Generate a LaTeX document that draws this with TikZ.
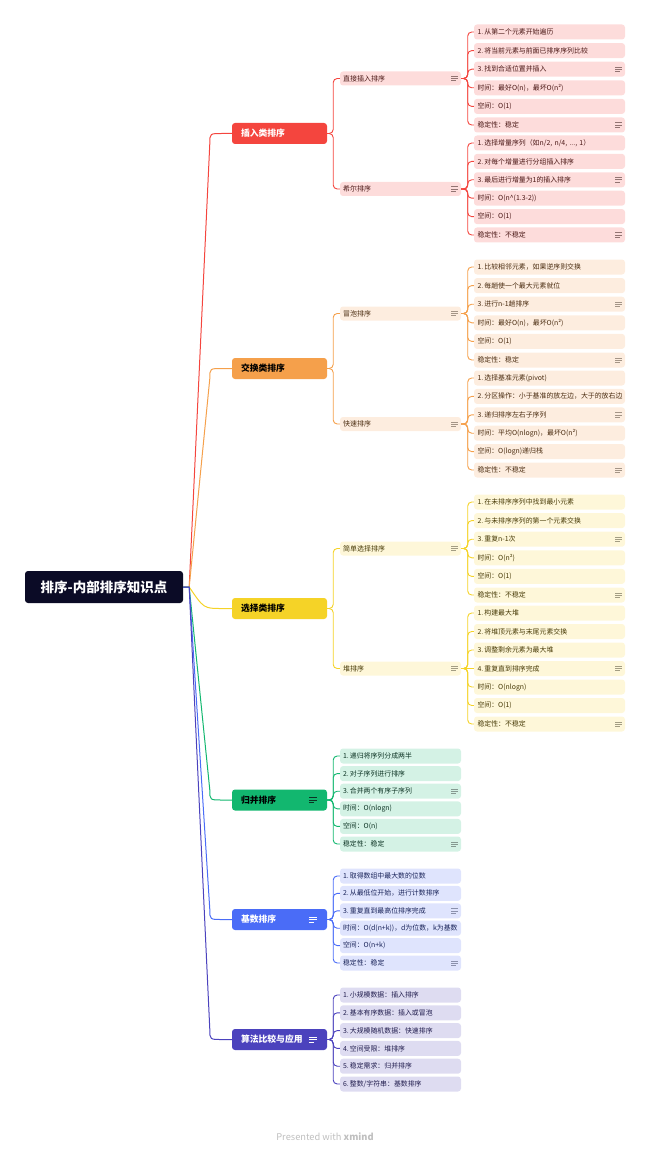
\documentclass[tikz,border=0pt]{standalone}
\usepackage{fontspec}
\setmainfont{Noto Sans CJK SC}
\definecolor{rootc}{HTML}{0B0B26}
\definecolor{red}{HTML}{F4453E}
\definecolor{redl}{HTML}{FDDCDB}
\definecolor{redt}{HTML}{4A1715}
\definecolor{orange}{HTML}{F5A04B}
\definecolor{orangel}{HTML}{FDEDDF}
\definecolor{oranget}{HTML}{4A2C10}
\definecolor{yellow}{HTML}{F5D327}
\definecolor{yellowl}{HTML}{FEF7D9}
\definecolor{yellowt}{HTML}{473A06}
\definecolor{green}{HTML}{12B76F}
\definecolor{greenl}{HTML}{D4F2E5}
\definecolor{greent}{HTML}{0C3323}
\definecolor{blue}{HTML}{4A6CF7}
\definecolor{bluel}{HTML}{DFE4FD}
\definecolor{bluet}{HTML}{182258}
\definecolor{purple}{HTML}{4B42BD}
\definecolor{purplel}{HTML}{DEDCF1}
\definecolor{purplet}{HTML}{211D4E}
\tikzset{
  box/.style={rounded corners=3pt, inner ysep=0pt, align=left},
  rootbox/.style={box, fill=rootc, text=white, inner xsep=0pt, align=center,
    font=\fontsize{13.5}{14}\selectfont\bfseries, minimum width=158pt, minimum height=32pt},
  topic/.style={box, fill=#1, inner xsep=9pt, text width=77pt, minimum height=21pt,
    font=\fontsize{8.8}{9}\selectfont\bfseries},
  sub/.style={box, fill=#1l, text=#1t, inner xsep=3pt, text width=115pt, minimum height=14pt,
    font=\fontsize{7}{7}\selectfont},
  leaf/.style={box, fill=#1l, text=#1t, inner xsep=3.5pt, text width=144pt, minimum height=15pt,
    font=\fontsize{6.9}{7}\selectfont},
  leafs/.style={box, fill=#1l, text=#1t, inner xsep=3pt, text width=115pt, minimum height=15pt,
    font=\fontsize{6.9}{7}\selectfont},
  note/.style={path picture={
    \draw[#1, line width=0.6pt]
      ([xshift=-10pt,yshift=2.2pt]path picture bounding box.east) -- ++(7,0)
      ([xshift=-10pt]path picture bounding box.east) -- ++(7,0)
      ([xshift=-10pt,yshift=-2.2pt]path picture bounding box.east) -- ++(4.5,0);}},
  bignote/.style={path picture={
    \draw[#1, line width=0.8pt]
      ([xshift=-18pt,yshift=2.6pt]path picture bounding box.east) -- ++(8,0)
      ([xshift=-18pt]path picture bounding box.east) -- ++(8,0)
      ([xshift=-18pt,yshift=-2.6pt]path picture bounding box.east) -- ++(5,0);}},
  rootlink/.style={draw=#1, line width=1pt},
  sublink/.style={draw=#1, line width=0.9pt, rounded corners=4pt}
}
\begin{document}
\begin{tikzpicture}[x=1pt,y=-1pt]
\useasboundingbox (0,0) rectangle (650,1150);

% root and main topics
\node[rootbox] (root) at (104,587) {排序-内部排序知识点};
\node[topic=red, text=white] (ins) at (279.5,133.5) {插入类排序};
\node[topic=orange, text=black] (exc) at (279.5,368.5) {交换类排序};
\node[topic=yellow, text=black] (sel) at (279.5,608.5) {选择类排序};
\node[topic=green, text=black, bignote=greent] (mrg) at (279.5,800) {归并排序};
\node[topic=blue, text=white, bignote=white] (rad) at (279.5,919.5) {基数排序};
\node[topic=purple, text=white, bignote=white] (app) at (279.5,1039.5) {算法比较与应用};

% sub topics
\node[sub=red, note=redt!60] (dir) at (400.5,78.5) {直接插入排序};
\node[sub=red, note=redt!60] (shell) at (400.5,189) {希尔排序};
\node[sub=orange, note=oranget!50] (bub) at (400.5,313.5) {冒泡排序};
\node[sub=orange, note=oranget!50] (quick) at (400.5,424) {快速排序};
\node[sub=yellow, note=yellowt!50] (simp) at (400.5,548.5) {简单选择排序};
\node[sub=yellow, note=yellowt!50] (heap) at (400.5,668.5) {堆排序};

% insertion leaves
\node[leaf=red] (dir1) at (549.5,32) {1.\,从第二个元素开始遍历};
\node[leaf=red] (dir2) at (549.5,50.6) {2.\,将当前元素与前面已排序序列比较};
\node[leaf=red, note=redt!60] (dir3) at (549.5,69.2) {3.\,找到合适位置并插入};
\node[leaf=red] (dir4) at (549.5,87.8) {时间：最好O(n)，最坏O(n²)};
\node[leaf=red] (dir5) at (549.5,106.4) {空间：O(1)};
\node[leaf=red, note=redt!60] (dir6) at (549.5,125) {稳定性：稳定};
\node[leaf=red] (shell1) at (549.5,143) {1.\,选择增量序列（如n/2, n/4, ..., 1）};
\node[leaf=red] (shell2) at (549.5,161.4) {2.\,对每个增量进行分组插入排序};
\node[leaf=red, note=redt!60] (shell3) at (549.5,179.8) {3.\,最后进行增量为1的插入排序};
\node[leaf=red] (shell4) at (549.5,198.2) {时间：O(n\^{}(1.3-2))};
\node[leaf=red] (shell5) at (549.5,216.6) {空间：O(1)};
\node[leaf=red, note=redt!60] (shell6) at (549.5,235) {稳定性：不稳定};

% exchange leaves
\node[leaf=orange] (bub1) at (549.5,267) {1.\,比较相邻元素，如果逆序则交换};
\node[leaf=orange] (bub2) at (549.5,285.6) {2.\,每趟使一个最大元素就位};
\node[leaf=orange, note=oranget!50] (bub3) at (549.5,304.2) {3.\,进行n-1趟排序};
\node[leaf=orange] (bub4) at (549.5,322.8) {时间：最好O(n)，最坏O(n²)};
\node[leaf=orange] (bub5) at (549.5,341.4) {空间：O(1)};
\node[leaf=orange, note=oranget!50] (bub6) at (549.5,360) {稳定性：稳定};
\node[leaf=orange] (quick1) at (549.5,378) {1.\,选择基准元素(pivot)};
\node[leaf=orange] (quick2) at (549.5,396.4) {2.\,分区操作：小于基准的放左边，大于的放右边};
\node[leaf=orange, note=oranget!50] (quick3) at (549.5,414.8) {3.\,递归排序左右子序列};
\node[leaf=orange] (quick4) at (549.5,433.2) {时间：平均O(nlogn)，最坏O(n²)};
\node[leaf=orange] (quick5) at (549.5,451.6) {空间：O(logn)递归栈};
\node[leaf=orange, note=oranget!50] (quick6) at (549.5,470) {稳定性：不稳定};

% selection leaves
\node[leaf=yellow] (simp1) at (549.5,502) {1.\,在未排序序列中找到最小元素};
\node[leaf=yellow] (simp2) at (549.5,520.6) {2.\,与未排序序列的第一个元素交换};
\node[leaf=yellow, note=yellowt!50] (simp3) at (549.5,539.2) {3.\,重复n-1次};
\node[leaf=yellow] (simp4) at (549.5,557.8) {时间：O(n²)};
\node[leaf=yellow] (simp5) at (549.5,576.4) {空间：O(1)};
\node[leaf=yellow, note=yellowt!50] (simp6) at (549.5,595) {稳定性：不稳定};
\node[leaf=yellow] (heap1) at (549.5,613) {1.\,构建最大堆};
\node[leaf=yellow] (heap2) at (549.5,631.5) {2.\,将堆顶元素与末尾元素交换};
\node[leaf=yellow] (heap3) at (549.5,650) {3.\,调整剩余元素为最大堆};
\node[leaf=yellow, note=yellowt!50] (heap4) at (549.5,668.5) {4.\,重复直到排序完成};
\node[leaf=yellow] (heap5) at (549.5,687) {时间：O(nlogn)};
\node[leaf=yellow] (heap6) at (549.5,705.5) {空间：O(1)};
\node[leaf=yellow, note=yellowt!50] (heap7) at (549.5,724) {稳定性：不稳定};

% merge, radix, comparison leaves
\node[leafs=green] (mrg1) at (400.5,756) {1.\,递归将序列分成两半};
\node[leafs=green] (mrg2) at (400.5,773.6) {2.\,对子序列进行排序};
\node[leafs=green, note=greent!50] (mrg3) at (400.5,791.2) {3.\,合并两个有序子序列};
\node[leafs=green] (mrg4) at (400.5,808.8) {时间：O(nlogn)};
\node[leafs=green] (mrg5) at (400.5,826.4) {空间：O(n)};
\node[leafs=green, note=greent!50] (mrg6) at (400.5,844) {稳定性：稳定};
\node[leafs=blue] (rad1) at (400.5,876) {1.\,取得数组中最大数的位数};
\node[leafs=blue] (rad2) at (400.5,893.4) {2.\,从最低位开始，进行计数排序};
\node[leafs=blue, note=bluet!50] (rad3) at (400.5,910.8) {3.\,重复直到最高位排序完成};
\node[leafs=blue] (rad4) at (400.5,928.2) {时间：O(d(n+k))，d为位数，k为基数};
\node[leafs=blue] (rad5) at (400.5,945.6) {空间：O(n+k)};
\node[leafs=blue, note=bluet!50] (rad6) at (400.5,963) {稳定性：稳定};
\node[leafs=purple] (app1) at (400.5,995) {1.\,小规模数据：插入排序};
\node[leafs=purple] (app2) at (400.5,1012.8) {2.\,基本有序数据：插入或冒泡};
\node[leafs=purple] (app3) at (400.5,1030.6) {3.\,大规模随机数据：快速排序};
\node[leafs=purple] (app4) at (400.5,1048.4) {4.\,空间受限：堆排序};
\node[leafs=purple] (app5) at (400.5,1066.2) {5.\,稳定需求：归并排序};
\node[leafs=purple] (app6) at (400.5,1084) {6.\,整数/字符串：基数排序};

% root links
\draw[rootlink=red] (root.east) -- ++(6,0) -- ([xshift=-22pt,yshift=-10pt]ins.west)
  .. controls ([xshift=-22pt]ins.west) .. ([xshift=-10pt]ins.west) -- (ins.west);
\draw[rootlink=orange] (root.east) -- ++(6,0) -- ([xshift=-22pt,yshift=-10pt]exc.west)
  .. controls ([xshift=-22pt]exc.west) .. ([xshift=-10pt]exc.west) -- (exc.west);
\draw[rootlink=yellow] (root.east) -- ++(6,0)
  .. controls ([xshift=-28pt]sel.west) .. ([xshift=-10pt]sel.west) -- (sel.west);
\draw[rootlink=green] (root.east) -- ++(6,0) -- ([xshift=-22pt,yshift=10pt]mrg.west)
  .. controls ([xshift=-22pt]mrg.west) .. ([xshift=-10pt]mrg.west) -- (mrg.west);
\draw[rootlink=blue] (root.east) -- ++(6,0) -- ([xshift=-22pt,yshift=10pt]rad.west)
  .. controls ([xshift=-22pt]rad.west) .. ([xshift=-10pt]rad.west) -- (rad.west);
\draw[rootlink=purple] (root.east) -- ++(6,0) -- ([xshift=-22pt,yshift=10pt]app.west)
  .. controls ([xshift=-22pt]app.west) .. ([xshift=-10pt]app.west) -- (app.west);

% topic links
\foreach \s in {dir,shell} \draw[sublink=red] (ins.east) -- ++(6,0) |- (\s.west);
\foreach \s in {bub,quick} \draw[sublink=orange] (exc.east) -- ++(6,0) |- (\s.west);
\foreach \s in {simp,heap} \draw[sublink=yellow] (sel.east) -- ++(6,0) |- (\s.west);

% leaf links
\foreach \i in {1,...,6} {
  \draw[sublink=red] (dir.east) -- ++(6.5,0) |- (dir\i.west);
  \draw[sublink=red] (shell.east) -- ++(6.5,0) |- (shell\i.west);
  \draw[sublink=orange] (bub.east) -- ++(6.5,0) |- (bub\i.west);
  \draw[sublink=orange] (quick.east) -- ++(6.5,0) |- (quick\i.west);
  \draw[sublink=yellow] (simp.east) -- ++(6.5,0) |- (simp\i.west);
  \draw[sublink=green] (mrg.east) -- ++(6,0) |- (mrg\i.west);
  \draw[sublink=blue] (rad.east) -- ++(6,0) |- (rad\i.west);
  \draw[sublink=purple] (app.east) -- ++(6,0) |- (app\i.west);
}
\foreach \i in {1,2,3,5,6,7} \draw[sublink=yellow] (heap.east) -- ++(6.5,0) |- (heap\i.west);
\draw[sublink=yellow] (heap.east) -- (heap4.west);

\node[font=\fontsize{9.3}{9.5}\selectfont, text=black!25] (mark) at (325,1137) {Presented with \textbf{xmind}};
\end{tikzpicture}
\end{document}
